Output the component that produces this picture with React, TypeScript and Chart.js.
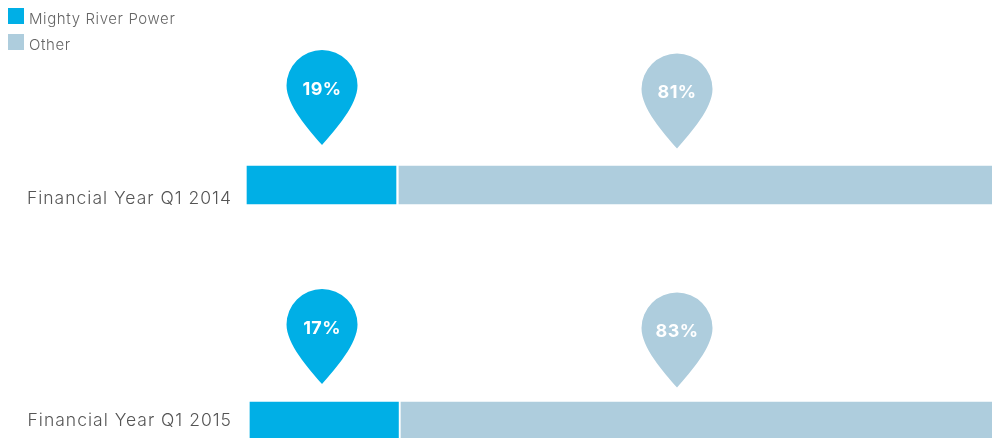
import React, { useEffect, useRef } from "react";
import { Chart, registerables } from "chart.js";

Chart.register(...registerables);

const categories = ["Financial Year Q1 2014", "Financial Year Q1 2015"];
const seriesNames = ["Mighty River Power", "Other"];
const mightyRiverShare = [19, 17];
const otherShare = [81, 83];
const mightyRiverBars: [number, number][] = [[0, 20.0], [0.4, 20.33]];
const otherBars: [number, number][] = [[20.4, 100], [20.67, 100]];
const pinAnchors = [10.07, 57.72];

const BLUE = "#00afe6";
const PALE = "#aecddd";
const FONT = "Inter, sans-serif";

const labelSpacing = {
  id: "labelSpacing",
  beforeDraw(chart: any) {
    chart.ctx.letterSpacing = "1px";
  },
};

const pinPlugin = {
  id: "pins",
  afterDatasetsDraw(chart: any) {
    const { ctx, scales } = chart;
    const tipOffsets = [[-40, -36.5], [-37, -33.5]];
    const sets = [
      { values: mightyRiverShare, color: BLUE },
      { values: otherShare, color: PALE },
    ];
    const r = 35.5;
    sets.forEach((set, s) => {
      set.values.forEach((v, i) => {
        const x = scales.x.getPixelForValue(pinAnchors[s]);
        const tip = scales.y.getPixelForValue(i) + tipOffsets[i][s];
        const cy = tip - 59.5;
        ctx.save();
        ctx.fillStyle = set.color;
        ctx.beginPath();
        ctx.moveTo(x, tip);
        ctx.bezierCurveTo(x - 14, tip - 16, x - r, tip - 40, x - r, cy);
        ctx.arc(x, cy, r, Math.PI, 0);
        ctx.bezierCurveTo(x + r, tip - 40, x + 14, tip - 16, x, tip);
        ctx.closePath();
        ctx.fill();
        ctx.letterSpacing = "0.4px";
        ctx.fillStyle = "#ffffff";
        ctx.font = `700 18px ${FONT}`;
        ctx.textAlign = "center";
        ctx.textBaseline = "middle";
        ctx.fillText(`${v}%`, x, cy + (s === 0 ? 4.5 : 3.5));
        ctx.restore();
      });
    });
  },
};

const legendPlugin = {
  id: "seriesKey",
  afterDraw(chart: any) {
    const { ctx } = chart;
    chart.data.datasets.forEach((d: any, i: number) => {
      const top = 8 + i * 26;
      ctx.save();
      ctx.fillStyle = d.backgroundColor;
      ctx.fillRect(8, top, 16, 16);
      ctx.letterSpacing = "0.6px";
      ctx.fillStyle = "#666666";
      ctx.font = `300 15px ${FONT}`;
      ctx.textAlign = "left";
      ctx.textBaseline = "middle";
      ctx.fillText(d.label, 29, top + 11.5);
      ctx.restore();
    });
  },
};

export default function App() {
  const ref = useRef<HTMLCanvasElement>(null);
  useEffect(() => {
    document.body.style.margin = "0";
    const chart = new Chart(ref.current!, {
      type: "bar",
      plugins: [labelSpacing, pinPlugin, legendPlugin],
      data: {
        labels: [["", categories[0]], categories[1]] as any,
        datasets: [
          { label: seriesNames[0], data: mightyRiverBars as any, backgroundColor: BLUE, grouped: false, barThickness: 38, clip: false as any },
          { label: seriesNames[1], data: otherBars as any, backgroundColor: PALE, grouped: false, barThickness: 38, clip: false as any },
        ],
      },
      options: {
        indexAxis: "y",
        animation: false,
        responsive: false,
        layout: { padding: { top: 185, bottom: 17, left: 0, right: 0 } },
        scales: {
          x: { type: "linear", min: 0, max: 100, display: false },
          y: {
            type: "category",
            offset: false,
            border: { display: false },
            grid: { display: false, drawTicks: false },
            afterFit: (s: any) => { s.width = 247; s.paddingTop = 0; s.paddingBottom = 0; },
            ticks: {
              padding: 15,
              color: "#555555",
              font: { family: FONT, size: 17.5, weight: 300, lineHeight: 1.57 },
            },
          },
        },
        plugins: {
          tooltip: { enabled: false },
          legend: { display: false },
        },
      } as any,
    });
    return () => chart.destroy();
  }, []);
  return <canvas ref={ref} width={992} height={438} style={{ display: "block" }} />;
}
